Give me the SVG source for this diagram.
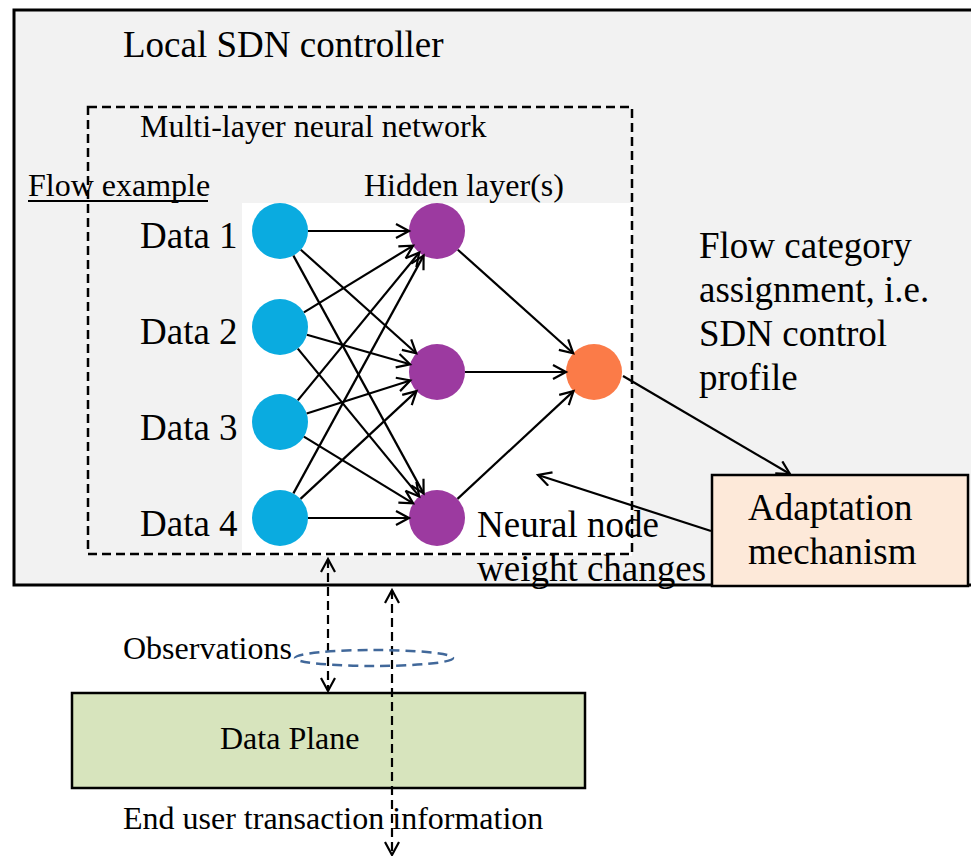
<svg xmlns="http://www.w3.org/2000/svg" width="971" height="856" viewBox="0 0 971 856">
<style>
text{font-family:"Liberation Serif","Times New Roman",serif;fill:#000}
.big{font-size:37px}
.mid{font-size:32px}
.conn line{stroke:#000;stroke-width:2.2;marker-end:url(#ah)}
.blue{fill:#0aabe0}
.purple{fill:#9c3aa0}
.orange{fill:#fb7b48}
.dash{stroke:#000;stroke-width:2.5;stroke-dasharray:9 5;fill:none}
</style>
<defs>
<marker id="ah" markerUnits="userSpaceOnUse" markerWidth="18" markerHeight="18" refX="14" refY="8" orient="auto">
<path d="M1,1 L14,8 L1,15" fill="none" stroke="#000" stroke-width="2.2"/>
</marker>
<marker id="ahs" markerUnits="userSpaceOnUse" markerWidth="18" markerHeight="18" refX="14" refY="8" orient="auto-start-reverse">
<path d="M1,1 L14,8 L1,15" fill="none" stroke="#000" stroke-width="2.2"/>
</marker>
</defs>
<rect width="971" height="856" fill="#fff"/>
<g id="controller">
<rect x="14" y="10" width="970" height="575" fill="#f2f2f2" stroke="#000" stroke-width="3"/>
<text class="big" x="123" y="57">Local SDN controller</text>
</g>
<g id="nn-area">
<rect x="242" y="203" width="390" height="353" fill="#fff"/>
<rect class="dash" x="88" y="107" width="544" height="447"/>
<text class="mid" x="140" y="137">Multi-layer neural network</text>
<text class="mid" x="28" y="196">Flow example</text>
<line x1="28" y1="201" x2="208" y2="201" stroke="#000" stroke-width="2"/>
<text class="mid" x="364" y="196">Hidden layer(s)</text>
</g>
<g id="inputs">
<text class="big" x="140" y="248">Data 1</text>
<text class="big" x="140" y="344">Data 2</text>
<text class="big" x="140" y="440">Data 3</text>
<text class="big" x="140" y="536">Data 4</text>
</g>
<g id="b1"><circle class="blue" cx="280" cy="231" r="28"/></g>
<g id="b2"><circle class="blue" cx="280" cy="327" r="28"/></g>
<g id="b3"><circle class="blue" cx="280" cy="422" r="28"/></g>
<g id="b4"><circle class="blue" cx="280" cy="518" r="28"/></g>
<g id="p1"><circle class="purple" cx="437" cy="231" r="28"/></g>
<g id="p2"><circle class="purple" cx="437" cy="372" r="28"/></g>
<g id="p3"><circle class="purple" cx="437" cy="518" r="28"/></g>
<g id="out"><circle class="orange" cx="594" cy="372" r="28"/></g>
<g id="flow-label">
<text class="big" x="699" y="258">Flow category</text>
<text class="big" x="699" y="302">assignment, i.e.</text>
<text class="big" x="699" y="346">SDN control</text>
<text class="big" x="699" y="390">profile</text>
</g>
<g id="weights-label">
<text class="big" x="477" y="537">Neural node</text>
<text class="big" x="477" y="581">weight changes</text>
</g>
<g id="adaptation">
<rect x="712" y="475" width="256" height="111" fill="#fde9d9" stroke="#000" stroke-width="2.5"/>
<text class="big" x="748" y="520">Adaptation</text>
<text class="big" x="748" y="564">mechanism</text>
</g>
<g id="dataplane">
<rect x="72" y="693" width="513" height="95" fill="#d7e4bd" stroke="#000" stroke-width="2.5"/>
<text class="mid" x="220" y="749">Data Plane</text>
</g>
<g id="labels-bottom">
<text class="mid" x="123" y="659">Observations</text>
<text class="mid" x="123" y="829">End user transaction information</text>
</g>
<g class="conn" id="connectors">
<line x1="308" y1="231" x2="409" y2="231"/>
<line x1="300.8" y1="249.7" x2="416.2" y2="353.3"/>
<line x1="293.4" y1="255.6" x2="423.6" y2="493.4"/>
<line x1="303.9" y1="312.4" x2="413.1" y2="245.6"/>
<line x1="306.9" y1="334.7" x2="410.1" y2="364.3"/>
<line x1="297.8" y1="348.6" x2="419.2" y2="496.4"/>
<line x1="297.8" y1="400.4" x2="419.2" y2="252.6"/>
<line x1="306.7" y1="413.5" x2="410.3" y2="380.5"/>
<line x1="303.9" y1="436.6" x2="413.1" y2="503.4"/>
<line x1="293.4" y1="493.4" x2="423.6" y2="255.6"/>
<line x1="300.5" y1="498.9" x2="416.5" y2="391.1"/>
<line x1="308" y1="518" x2="409" y2="518"/>
<line x1="457.8" y1="249.7" x2="573.2" y2="353.3"/>
<line x1="465" y1="372" x2="566" y2="372"/>
<line x1="457.5" y1="498.9" x2="573.5" y2="391.1"/>
<line x1="623" y1="376" x2="790" y2="474"/>
<line x1="711" y1="531" x2="538" y2="475"/>
<line x1="328" y1="559" x2="328" y2="691" stroke-width="2.5" stroke-dasharray="9 5" marker-start="url(#ahs)"/>
<line x1="392" y1="590" x2="392" y2="855" stroke-width="2.5" stroke-dasharray="9 5" marker-start="url(#ahs)"/>
<ellipse cx="374" cy="658" rx="79" ry="8" fill="none" stroke="#41689a" stroke-width="2.5" stroke-dasharray="10 6"/>
</g>
</svg>
